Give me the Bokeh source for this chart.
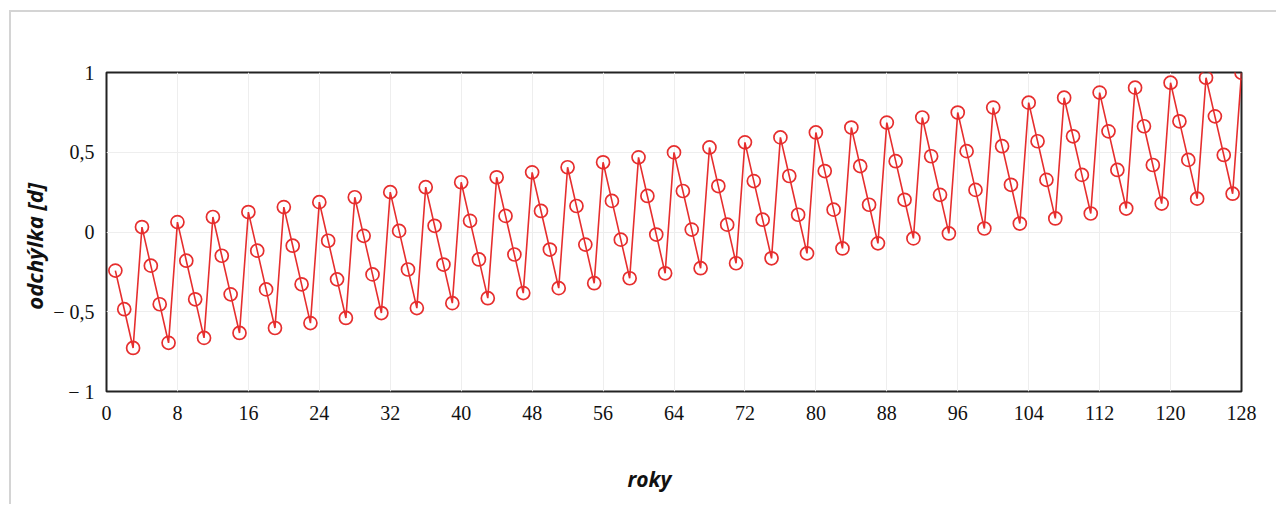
import math
from bokeh.plotting import figure
from bokeh.models import Range1d, FixedTicker, CustomJSTickFormatter, ColumnDataSource
from bokeh.embed import file_html
from bokeh.resources import INLINE

# years 1..128
years = list(range(1, 129))
# deviation in days
deviation = [
    -0.242, -0.484, -0.727, 0.031,
    -0.211, -0.453, -0.695, 0.062,
    -0.180, -0.422, -0.664, 0.094,
    -0.149, -0.391, -0.633, 0.125,
    -0.117, -0.360, -0.602, 0.156,
    -0.086, -0.328, -0.571, 0.187,
    -0.055, -0.297, -0.539, 0.218,
    -0.024, -0.266, -0.508, 0.250,
    0.007, -0.235, -0.477, 0.281,
    0.039, -0.204, -0.446, 0.312,
    0.070, -0.172, -0.415, 0.343,
    0.101, -0.141, -0.383, 0.374,
    0.132, -0.110, -0.352, 0.406,
    0.163, -0.079, -0.321, 0.437,
    0.195, -0.048, -0.290, 0.468,
    0.226, -0.016, -0.259, 0.499,
    0.257, 0.015, -0.227, 0.530,
    0.288, 0.046, -0.196, 0.562,
    0.319, 0.077, -0.165, 0.593,
    0.351, 0.108, -0.134, 0.624,
    0.382, 0.140, -0.103, 0.655,
    0.413, 0.171, -0.071, 0.686,
    0.444, 0.202, -0.040, 0.718,
    0.475, 0.233, -0.009, 0.749,
    0.507, 0.264, 0.022, 0.780,
    0.538, 0.296, 0.053, 0.811,
    0.569, 0.327, 0.085, 0.842,
    0.600, 0.358, 0.116, 0.874,
    0.631, 0.389, 0.147, 0.905,
    0.663, 0.420, 0.178, 0.936,
    0.694, 0.452, 0.209, 0.967,
    0.725, 0.483, 0.240, 0.998,
]
x_ticks = [0, 8, 16, 24, 32, 40, 48, 56, 64, 72, 80, 88, 96, 104, 112, 120, 128]
y_ticks = [-1, -0.5, 0, 0.5, 1]
x_title = "roky"
y_title = "odchýlka [d]"

RED = "#e62e2e"
NBSP = "\u00a0"

p = figure(width=1267, height=494, output_backend="svg", toolbar_location=None,
           x_range=Range1d(0, 128), y_range=Range1d(-1, 1),
           min_border_left=95, min_border_right=37, min_border_top=60, min_border_bottom=115)
p.styles = {"border-top": "2px solid #d4d4d4", "border-left": "2px solid #d4d4d4",
            "margin-left": "9px", "margin-top": "10px"}

src = ColumnDataSource(dict(x=years, y=deviation))
p.line("x", "y", source=src, line_color=RED, line_width=1.6)
p.scatter("x", "y", source=src, size=13, marker="circle", fill_color=None,
          line_color=RED, line_width=1.7)

p.outline_line_color = "#222222"
p.outline_line_width = 2
p.background_fill_color = "white"
p.border_fill_color = "white"

fmt = CustomJSTickFormatter(code="""
if (Math.abs(tick) < 1e-9) return "0";
var s = Math.abs(tick).toString().replace(".", ",");
return tick < 0 ? "\\u2212 " + s : s;
""")

for ax in (p.xaxis[0], p.yaxis[0]):
    ax.axis_line_color = None
    ax.major_tick_line_color = None
    ax.minor_tick_line_color = None
    ax.major_label_text_font = "Liberation Serif"
    ax.major_label_text_font_size = "20px"
    ax.major_label_text_color = "#111111"
    ax.axis_label_text_font = "Open Sans"
    ax.axis_label_text_font_style = "bold italic"
    ax.axis_label_text_color = "#111111"

p.xaxis[0].ticker = FixedTicker(ticks=x_ticks)
p.xaxis[0].major_label_standoff = 8
p.xaxis[0].axis_label = x_title + NBSP * 9
p.xaxis[0].axis_label_text_font_size = "21px"
p.xaxis[0].axis_label_standoff = 42

p.yaxis[0].ticker = FixedTicker(ticks=y_ticks)
p.yaxis[0].formatter = fmt
p.yaxis[0].major_label_standoff = 6
p.yaxis[0].axis_label = y_title + NBSP * 5
p.yaxis[0].axis_label_text_font_size = "22px"
p.yaxis[0].axis_label_standoff = 1

p.xgrid[0].ticker = FixedTicker(ticks=x_ticks)
p.ygrid[0].ticker = FixedTicker(ticks=y_ticks)
p.xgrid.grid_line_color = "#eeeeee"
p.ygrid.grid_line_color = "#eeeeee"

open("out.html", "w").write(file_html(p, INLINE))
